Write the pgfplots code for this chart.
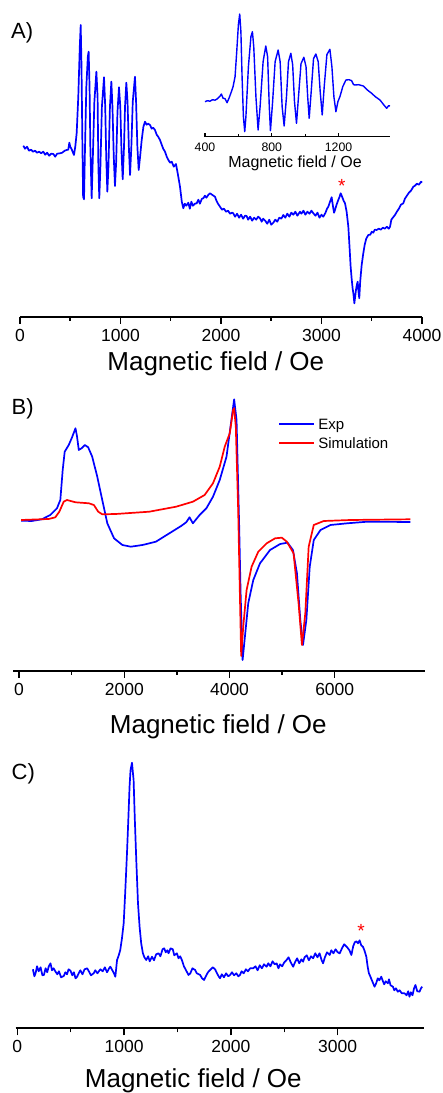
\documentclass[border=0pt]{standalone}
\usepackage{fontspec}
\setmainfont{Liberation Sans}
\usepackage{pgfplots}
\pgfplotsset{compat=1.18}
\definecolor{expblue}{RGB}{0,0,255}
\definecolor{simred}{RGB}{255,0,0}

\tikzset{spec/.style={line width=1.7pt, line join=round}}
\pgfplotsset{
  eprbase/.style={
    scale only axis,
    axis x line*=bottom,
    axis y line=none,
    ymin=0,
    tick align=outside,
    minor x tick num=1,
    major tick length=7pt,
    minor tick length=4pt,
    tick style={black, line width=1.5pt},
    minor tick style={black, line width=1.5pt},
    x axis line style={line width=1.8pt},
    scaled x ticks=false,
    /pgf/number format/1000 sep={},
    /pgf/number format/assume math mode=true,
    xticklabel style={font=\fontsize{17.5}{20}\selectfont, inner sep=0pt, anchor=north, yshift=-5pt},
    clip=false,
  },
}

\begin{document}
\begin{tikzpicture}[x=1pt,y=1pt]
\useasboundingbox (0,0) rectangle (443,1093);

% ---------------- Panel A ----------------
\begin{axis}[eprbase,
  at={(20pt,776.3pt)}, anchor=south west,
  width=402pt, height=300pt,
  xmin=0, xmax=4000, ymax=300,
  xtick={0,1000,2000,3000,4000}]
\addplot[spec, color=expblue] coordinates {
(33,171)(50,168)(70,170)(90,166)(110,167)(130,165)(150,166)(170,164)(190,165)(210,163.5)
(232,165)(250,162)(270,164)(290,161)(310,163)(332,162.7)(350,160)(370,163)(398,163.4)(420,164)
(445,166)(464,166.7)(480,167)(491,174)(500,170)(514,167.4)(537,161.7)(550,170)(564,183.7)(580,220)
(595,270)(604,291.7)(612,250)(620,180)(628,120)(637,117.4)(645,160)(660,230)(675,260)(683,265)
(692,230)(700,170)(713,118.4)(725,160)(740,215)(760,245)(772,220)(780,150)(789,118.4)(800,150)
(815,210)(836,239.4)(848,210)(858,160)(869,125)(880,150)(895,210)(909,235)(920,210)(933,160)
(945,130.7)(957,155)(970,205)(985,229.4)(998,210)(1010,165)(1022,137.4)(1035,170)(1045,210)(1058,234)
(1070,215)(1083,170)(1095,141.7)(1108,170)(1122,215)(1144,240)(1155,215)(1168,170)(1181,146.7)(1195,160)
(1211,176.7)(1228,190)(1244,195)(1260,192)(1275,193)(1294,191.7)(1310,188)(1325,189)(1343,186.7)(1360,182)
(1375,180)(1393,176.7)(1410,172)(1425,168)(1443,165)(1460,160)(1475,157)(1493,154)(1510,155)(1530,150)
(1552,152.7)(1570,143)(1592,130)(1610,115)(1625,108.4)(1640,113)(1655,111)(1675,114)(1690,108)(1705,115)
(1720,111)(1740,113)(1758,113.4)(1775,117)(1790,113)(1810,118)(1824,118.4)(1840,121)(1855,119)(1875,122)
(1891,123.4)(1910,122)(1925,121)(1940,120)(1955,116)(1970,113)(1990,110)(2010,107)(2030,108)(2050,105)
(2070,106)(2090,103)(2110,104)(2122,103.4)(2140,100)(2160,103)(2180,99)(2200,102)(2220,98)(2240,101)
(2255,100.7)(2270,97)(2290,100)(2310,96)(2330,99)(2350,97)(2370,100)(2388,98.4)(2405,95)(2420,98)
(2440,96)(2460,93)(2480,97)(2500,92)(2521,94)(2540,97)(2560,95)(2580,99)(2600,98)(2620,101.7)
(2640,99)(2660,103)(2680,100)(2700,104)(2720,102)(2740,105)(2760,101)(2786,105)(2800,103)(2820,106)
(2840,102)(2860,105)(2880,103)(2900,106)(2919,103.4)(2940,101)(2960,104)(2980,99)(3000,102)(3018,100)
(3040,104)(3055,108)(3068,110)(3085,115)(3101,119.4)(3115,110)(3125,104)(3134,106.7)(3150,112)(3167,116.7)
(3180,120)(3191,123.4)(3205,120)(3220,116)(3234,113.4)(3250,105)(3267,90)(3280,68)(3290,50)(3300,38)
(3310,28)(3317,23.4)(3327,13.4)(3335,20)(3343,26.7)(3352,32)(3360,35)(3368,25)(3376,18.4)(3385,35)
(3400,52)(3416,63.4)(3430,72)(3445,78)(3466,81.7)(3485,82)(3500,85)(3515,84)(3530,87)(3549,86.7)
(3570,88)(3590,87)(3610,89)(3630,88)(3650,90)(3670,88)(3682,90)(3695,97)(3710,99)(3731,101.7)
(3750,105)(3770,108)(3790,112)(3814,113.4)(3830,118)(3850,121)(3870,124)(3890,126)(3914,130)(3930,131)
(3950,133)(3970,132)(3990,135)(4000,134)
};
\node[anchor=north, inner sep=0pt, text=simred, font=\fontsize{19}{20}\selectfont] at (axis cs:3201,137.4) {*};
\end{axis}

% inset of panel A
\begin{axis}[eprbase,
  at={(205pt,956.3pt)}, anchor=south west,
  width=185pt, height=130pt,
  xmin=400, xmax=1508, ymax=130,
  xtick={400,800,1200},
  tick align=inside,
  major tick length=3.5pt, minor tick length=2.5pt,
  tick style={black, line width=1.1pt},
  minor tick style={black, line width=1.1pt},
  x axis line style={line width=1.2pt},
  xticklabel style={font=\fontsize{12.3}{14}\selectfont, inner sep=0pt, anchor=north, yshift=-1pt}]
\addplot[line width=1.4pt, line join=round, color=expblue] coordinates {
(400,35)(415,36)(430,35.5)(445,37)(460,36.5)(475,38)(490,40.5)(498,42.7)(508,38.5)(520,38)
(532,34)(545,39)(558,45)(568,50)(580,60)(590,85)(600,112)(608,122.7)(615,105)(622,60)
(630,20)(638,5)(645,20)(660,70)(675,100)(684,105)(692,90)(705,40)(718,6.7)(730,30)
(748,75)(764,90.7)(775,80)(785,30)(792,6)(805,35)(820,75)(838,86.7)(850,75)(862,30)
(874,10.7)(888,40)(900,75)(914,83.4)(925,72)(936,35)(948,13.4)(960,40)(975,73)(992,79.4)
(1005,70)(1015,40)(1024,18.4)(1036,45)(1050,78)(1064,82.7)(1078,75)(1090,45)(1102,21.7)(1114,50)
(1130,82)(1148,87.4)(1160,70)(1172,40)(1184,25)(1196,35)(1208,40)(1225,50)(1244,56.7)(1262,57)
(1278,56)(1290,52)(1298,51.7)(1320,52)(1348,50.7)(1370,47)(1398,43.4)(1420,40)(1448,36.7)(1470,32)
(1488,28.4)(1500,31)(1508,30.7)
};
\end{axis}

% ---------------- Panel B ----------------
\begin{axis}[eprbase,
  at={(13.3pt,422pt)}, anchor=south west,
  width=411.9pt, height=280pt,
  xmin=-110, xmax=7720, ymax=280,
  xtick={0,2000,4000,6000}]
% experimental spectrum
\addplot[spec, color=expblue] coordinates {
(38,150.3)(242,150)(433,151.7)(593,156)(720,162.7)(784,171)(829,201)(867,219.3)(944,226)(1007,233.7)
(1072,242.7)(1100,235)(1135,221)(1187,222.7)(1250,226)(1313,223.7)(1390,214.3)(1486,194.3)(1581,171)(1677,147.7)
(1805,132.7)(1964,126)(2124,124.3)(2346,126)(2601,129.3)(2857,137.7)(3080,145)(3177,148.7)(3240,153.7)(3304,147.7)
(3432,156)(3560,162.7)(3686,174.3)(3814,191)(3943,214.3)(4019,244.3)(4088,271.7)(4134,251)(4184,144.3)(4211,77.7)
(4249,11)(4293,34.3)(4356,67.7)(4452,91)(4580,107.7)(4771,121)(4963,127)(5103,128.3)(5206,121)(5282,97.7)
(5346,51)(5397,26)(5461,51)(5525,104.3)(5602,131)(5730,141)(5920,146)(6239,147.7)(6622,149.3)(7437,149)
};
% simulated spectrum
\addplot[spec, color=simred] coordinates {
(38,151)(561,152)(689,153.7)(765,159.3)(848,169.3)(911,171)(1072,168.7)(1326,167.7)(1422,166)(1504,159.3)
(1581,156.7)(1837,157)(2475,159.3)(2985,164.3)(3304,169.3)(3527,176)(3686,187.7)(3814,204.3)(3909,224.3)(4005,237.7)
(4069,261)(4088,262.7)(4120,244.3)(4165,161)(4197,77.7)(4222,15)(4261,44.3)(4325,81)(4420,104.3)(4547,119.3)
(4707,127.7)(4867,132.7)(4995,133.3)(5090,129.3)(5218,117.7)(5313,67.7)(5377,26)(5441,57.7)(5505,124.3)(5602,146)
(5792,150)(6302,151)(7437,151.7)
};
% legend keys
\addplot[spec, color=expblue] coordinates {(4941,246.7)(5606,246.7)};
\addplot[spec, color=simred] coordinates {(4941,227.7)(5606,227.7)};
\node[anchor=base west, inner sep=0pt, font=\fontsize{15}{17}\selectfont] at (axis cs:5684,241) {Exp};
\node[anchor=base west, inner sep=0pt, font=\fontsize{15}{17}\selectfont] at (axis cs:5684,222.3) {Simulation};
\end{axis}

% ---------------- Panel C ----------------
\begin{axis}[eprbase,
  at={(15.7pt,64.7pt)}, anchor=south west,
  width=408.3pt, height=280pt,
  xmin=-15, xmax=3808, ymax=280,
  xtick={0,1000,2000,3000}]
\addplot[spec, color=expblue] coordinates {
(146,59)(160,52)(171,55)(185,62)(200,57)(218,61)(235,53)(249,53.3)(265,60)(280,56)
(295,62)(311,65)(325,58)(340,60)(358,56.6)(375,54)(390,57)(410,51)(435,52.3)(450,56)
(465,54)(480,59)(498,57.6)(515,53)(530,56)(545,50)(560,51.6)(575,55)(590,58)(610,54)
(630,59)(654,60)(670,57)(690,53)(715,55)(730,58)(750,55)(778,59)(800,57)(820,61)
(840,56)(860,60)(871,61.6)(890,58)(905,55)(918,51.6)(934,68.3)(950,73)(964,78.3)(980,90)
(996,105)(1010,135)(1027,175)(1040,210)(1051,241.6)(1060,258)(1074,265.6)(1082,256)(1089,248.3)(1100,210)
(1114,168.3)(1130,125)(1145,101.6)(1160,85)(1176,75)(1190,71)(1207,68.3)(1225,72)(1240,67)(1261,71.6)
(1280,68)(1300,74)(1323,75)(1340,72)(1360,79)(1375,80)(1390,76)(1405,78)(1416,75)(1435,80)
(1456,79)(1470,73)(1494,75)(1510,70)(1525,72)(1541,68.3)(1560,62)(1580,58)(1603,53.3)(1620,55)
(1640,60)(1665,58.3)(1680,55)(1700,54)(1712,53.3)(1730,50)(1749,48.3)(1765,52)(1785,56)(1805,58.3)
(1830,61)(1852,59)(1870,55)(1885,52)(1898,50)(1915,54)(1935,51)(1955,55)(1975,52)(1992,53.3)
(2010,56)(2030,53)(2050,55)(2070,52)(2085,53.3)(2100,57)(2120,55)(2140,59)(2160,57)(2180,60)
(2209,60)(2230,62)(2250,58)(2270,63)(2290,60)(2310,64)(2334,61.6)(2350,65)(2370,62)(2390,67)
(2410,64)(2428,65)(2445,60)(2460,64)(2480,62)(2500,66)(2521,68.3)(2540,71)(2560,66)(2583,61.6)
(2600,66)(2620,70)(2640,65)(2660,69)(2676,66.6)(2690,71)(2710,73)(2730,68)(2750,72)(2770,70)
(2790,75)(2810,71)(2830,75)(2850,68)(2863,65)(2880,71)(2900,76)(2925,73.3)(2940,78)(2960,75)
(2980,79)(3000,76)(3019,75)(3040,80)(3060,84)(3080,82)(3096,80)(3110,78)(3128,73.3)(3145,82)
(3160,86)(3175,87)(3190,85)(3205,88)(3220,83)(3236,81.6)(3250,78)(3268,71.6)(3280,62)(3292,55)
(3305,52)(3320,48)(3345,41.6)(3360,45)(3375,50)(3390,48)(3408,51.6)(3420,48)(3435,44)(3450,47)
(3470,45)(3480,49)(3495,43)(3517,41.6)(3530,38)(3545,40)(3563,36.6)(3580,38)(3600,35)(3626,35)
(3645,33)(3660,37)(3672,31.6)(3685,36)(3700,33)(3715,40)(3728,43.3)(3745,37)(3766,36.6)(3780,40)
(3791,41.6)
};
\node[anchor=north, inner sep=0pt, text=simred, font=\fontsize{19}{20}\selectfont] at (axis cs:3218,104.3) {*};
\end{axis}

% panel letters and axis titles
\node[anchor=base west, inner sep=0pt, font=\fontsize{22}{26}\selectfont] at (11,1054.7) {A)};
\node[anchor=base west, inner sep=0pt, font=\fontsize{22}{26}\selectfont] at (11.5,678.7) {B)};
\node[anchor=base west, inner sep=0pt, font=\fontsize{22}{26}\selectfont] at (11.5,313.7) {C)};
\node[anchor=base, inner sep=0pt, font=\fontsize{16}{19}\selectfont] at (295,925.3) {Magnetic field / Oe};
\node[anchor=base, inner sep=0pt, font=\fontsize{26}{30}\selectfont] at (215.8,722.7) {Magnetic field / Oe};
\node[anchor=base, inner sep=0pt, font=\fontsize{26}{30}\selectfont] at (218.3,359.4) {Magnetic field / Oe};
\node[anchor=base, inner sep=0pt, font=\fontsize{26}{30}\selectfont] at (193.3,5.5) {Magnetic field / Oe};
\end{tikzpicture}
\end{document}
